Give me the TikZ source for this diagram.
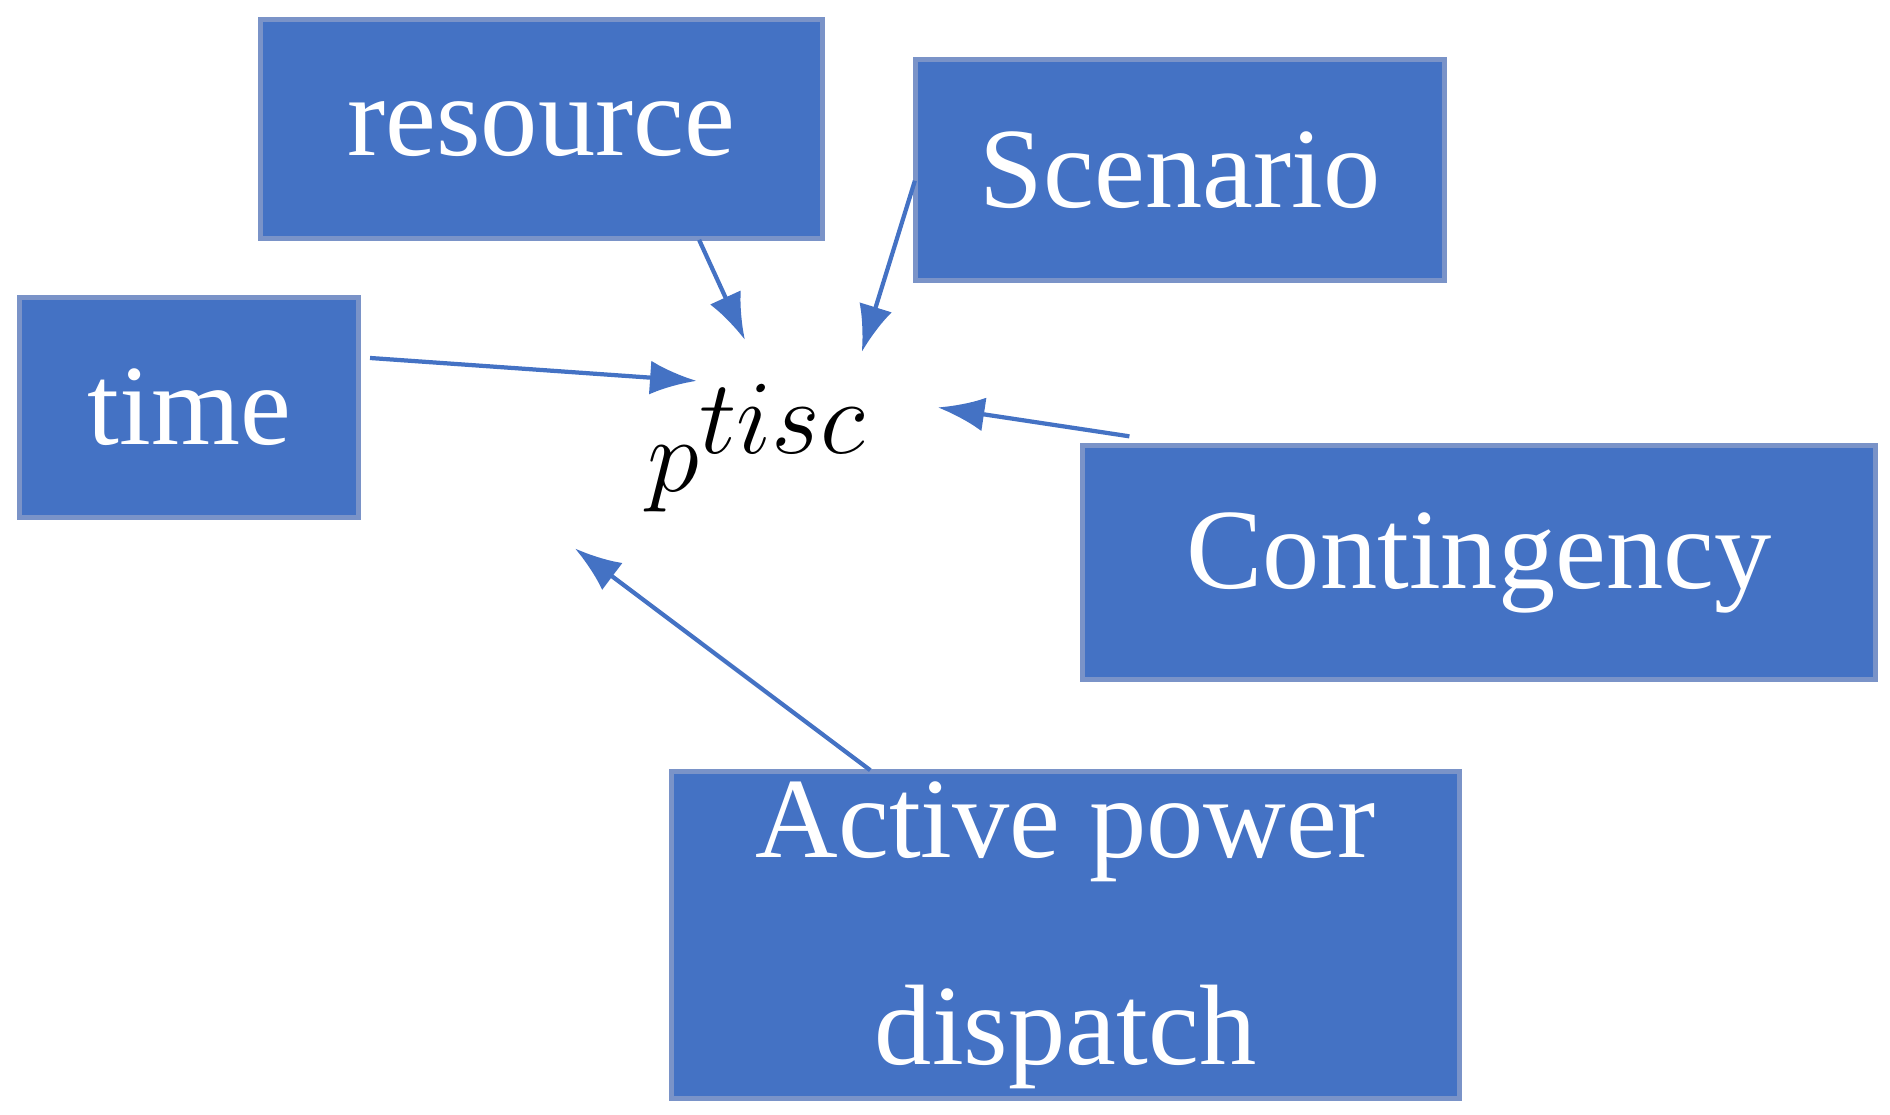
\documentclass[tikz,border=0pt]{standalone}
\usepackage{fontspec}
\setmainfont{Liberation Serif}
\usetikzlibrary{arrows.meta}
\definecolor{boxblue}{HTML}{4472C4}
\definecolor{boxline}{HTML}{7A93C8}
\begin{document}
\begin{tikzpicture}[
        x=0.01cm, y=-0.01cm,
        box/.style={rectangle, draw=boxline, line width=1.2pt, fill=boxblue,
            text=white, inner sep=0pt, font=\fontsize{27}{36}\selectfont,
            align=center},
        link/.style={draw=boxblue, line width=1pt, -{Latex[length=11pt,width=8pt]}},
    ]
        \useasboundingbox (0,0) rectangle (1568,925);
        \node[box, minimum width=4.66cm, minimum height=1.82cm] (res) at (449,107) {resource};
        \node[box, minimum width=4.38cm, minimum height=1.83cm] (scen) at (979,141) {Scenario};
        \node[box, minimum width=2.81cm, minimum height=1.83cm] (time) at (157,338) {time};
        \node[box, minimum width=6.57cm, minimum height=1.94cm] (cont) at (1227,467) {Contingency};
        \node[box, minimum width=6.53cm, minimum height=2.71cm,
              font=\fontsize{27}{49}\selectfont] (act) at (884,776) {Active power\\dispatch};
        \node[inner sep=0pt, font=\fontsize{46}{50}\selectfont] (pvar) at (628,372) {$p^{tisc}$};

        \coordinate (rs) at (580,199);   \coordinate (re) at (618,282);
        \coordinate (ss) at (759,150);   \coordinate (se) at (715,292);
        \coordinate (ts) at (307,297);   \coordinate (te) at (578,316);
        \coordinate (cs) at (937,362);   \coordinate (ce) at (778,338);
        \coordinate (as) at (722,639);   \coordinate (ae) at (477,455);

        \draw[link] (rs) -- (re);
        \draw[link] (ss) -- (se);
        \draw[link] (ts) -- (te);
        \draw[link] (cs) -- (ce);
        \draw[link] (as) -- (ae);
    \end{tikzpicture}
\end{document}
